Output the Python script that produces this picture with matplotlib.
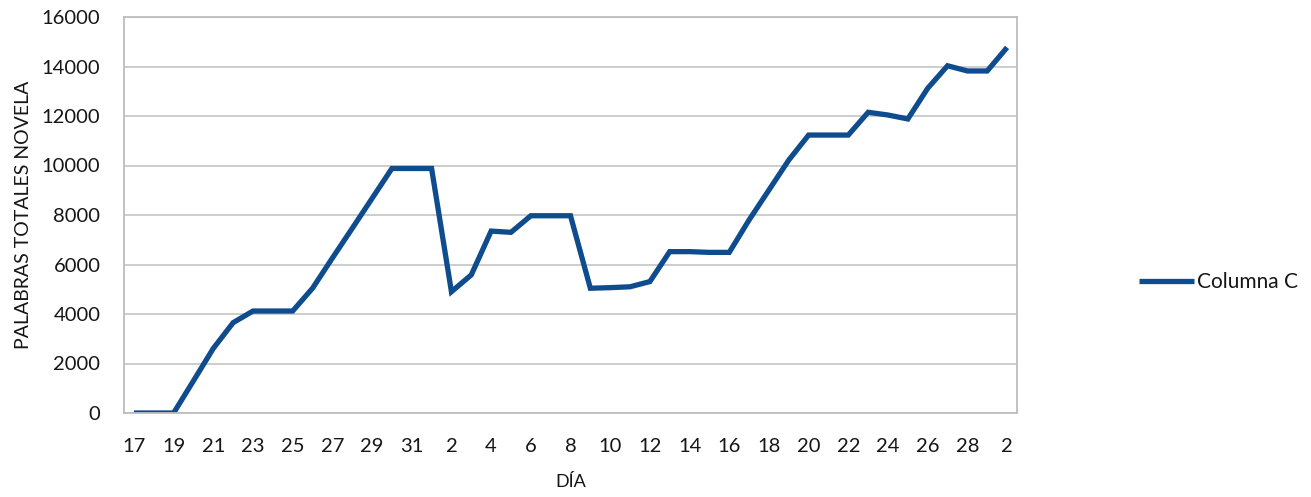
import matplotlib
matplotlib.use("Agg")
import matplotlib.pyplot as plt

# Day labels: 17 Jan .. 31 Jan, 1 Feb .. 28 Feb, 1 Mar .. 2 Mar
days = list(range(17, 32)) + list(range(1, 29)) + [1, 2]

# Total words written so far
palabras = [
    0, 0, 0, 1300, 2610, 3650, 4120, 4120, 4120, 5040,
    6260, 7460, 8670, 9880, 9880, 9880, 4900, 5580, 7350, 7300,
    7970, 7970, 7970, 5040, 5065, 5100, 5310, 6520, 6520, 6490,
    6490, 7800, 9010, 10220, 11230, 11230, 11230, 12150, 12040, 11880,
    13120, 14030, 13820, 13820, 14770,
]

series_name = "Columna C"
y_ticks = [0, 2000, 4000, 6000, 8000, 10000, 12000, 14000, 16000]

plt.rcParams["font.family"] = ["Lato", "DejaVu Sans"]
text_color = "#161616"

fig = plt.figure(figsize=(13.11, 4.97), dpi=100)
ax = fig.add_axes([124 / 1311, 1 - 413 / 497, (1017 - 124) / 1311, (413 - 17) / 497])

x = list(range(len(palabras)))
line, = ax.plot(x, palabras, color="#0e4c8e", lw=3.8, solid_joinstyle="miter",
                solid_capstyle="butt", label=series_name)

ax.set_xlim(-0.5, len(palabras) - 0.5)
ax.set_ylim(0, 16000)
ax.set_yticks(y_ticks)
ax.set_yticklabels([str(v) for v in y_ticks])
ax.set_xticks(x[::2])
ax.set_xticklabels([str(d) for d in days[::2]])

ax.grid(axis="y", color="#c9c9c9", lw=1.3)
ax.set_axisbelow(True)
for s in ax.spines.values():
    s.set_color("#bdbdbd")
    s.set_linewidth(1.3)

ax.tick_params(axis="both", length=0, labelsize=14.5, colors=text_color)
ax.tick_params(axis="y", pad=17)
ax.tick_params(axis="x", pad=18)

ax.set_xlabel("DÍA", fontsize=13, color=text_color, labelpad=14)
ax.set_ylabel("PALABRAS TOTALES NOVELA", fontsize=14, color=text_color, labelpad=7)

fig.legend(handles=[line], loc="center left",
           bbox_to_anchor=(1129 / 1311, 1 - 282 / 497), frameon=False,
           fontsize=15, handlelength=2.6, handletextpad=0.15, borderpad=0,
           labelcolor=text_color)

fig.savefig("out.png", dpi=100, facecolor="white")
